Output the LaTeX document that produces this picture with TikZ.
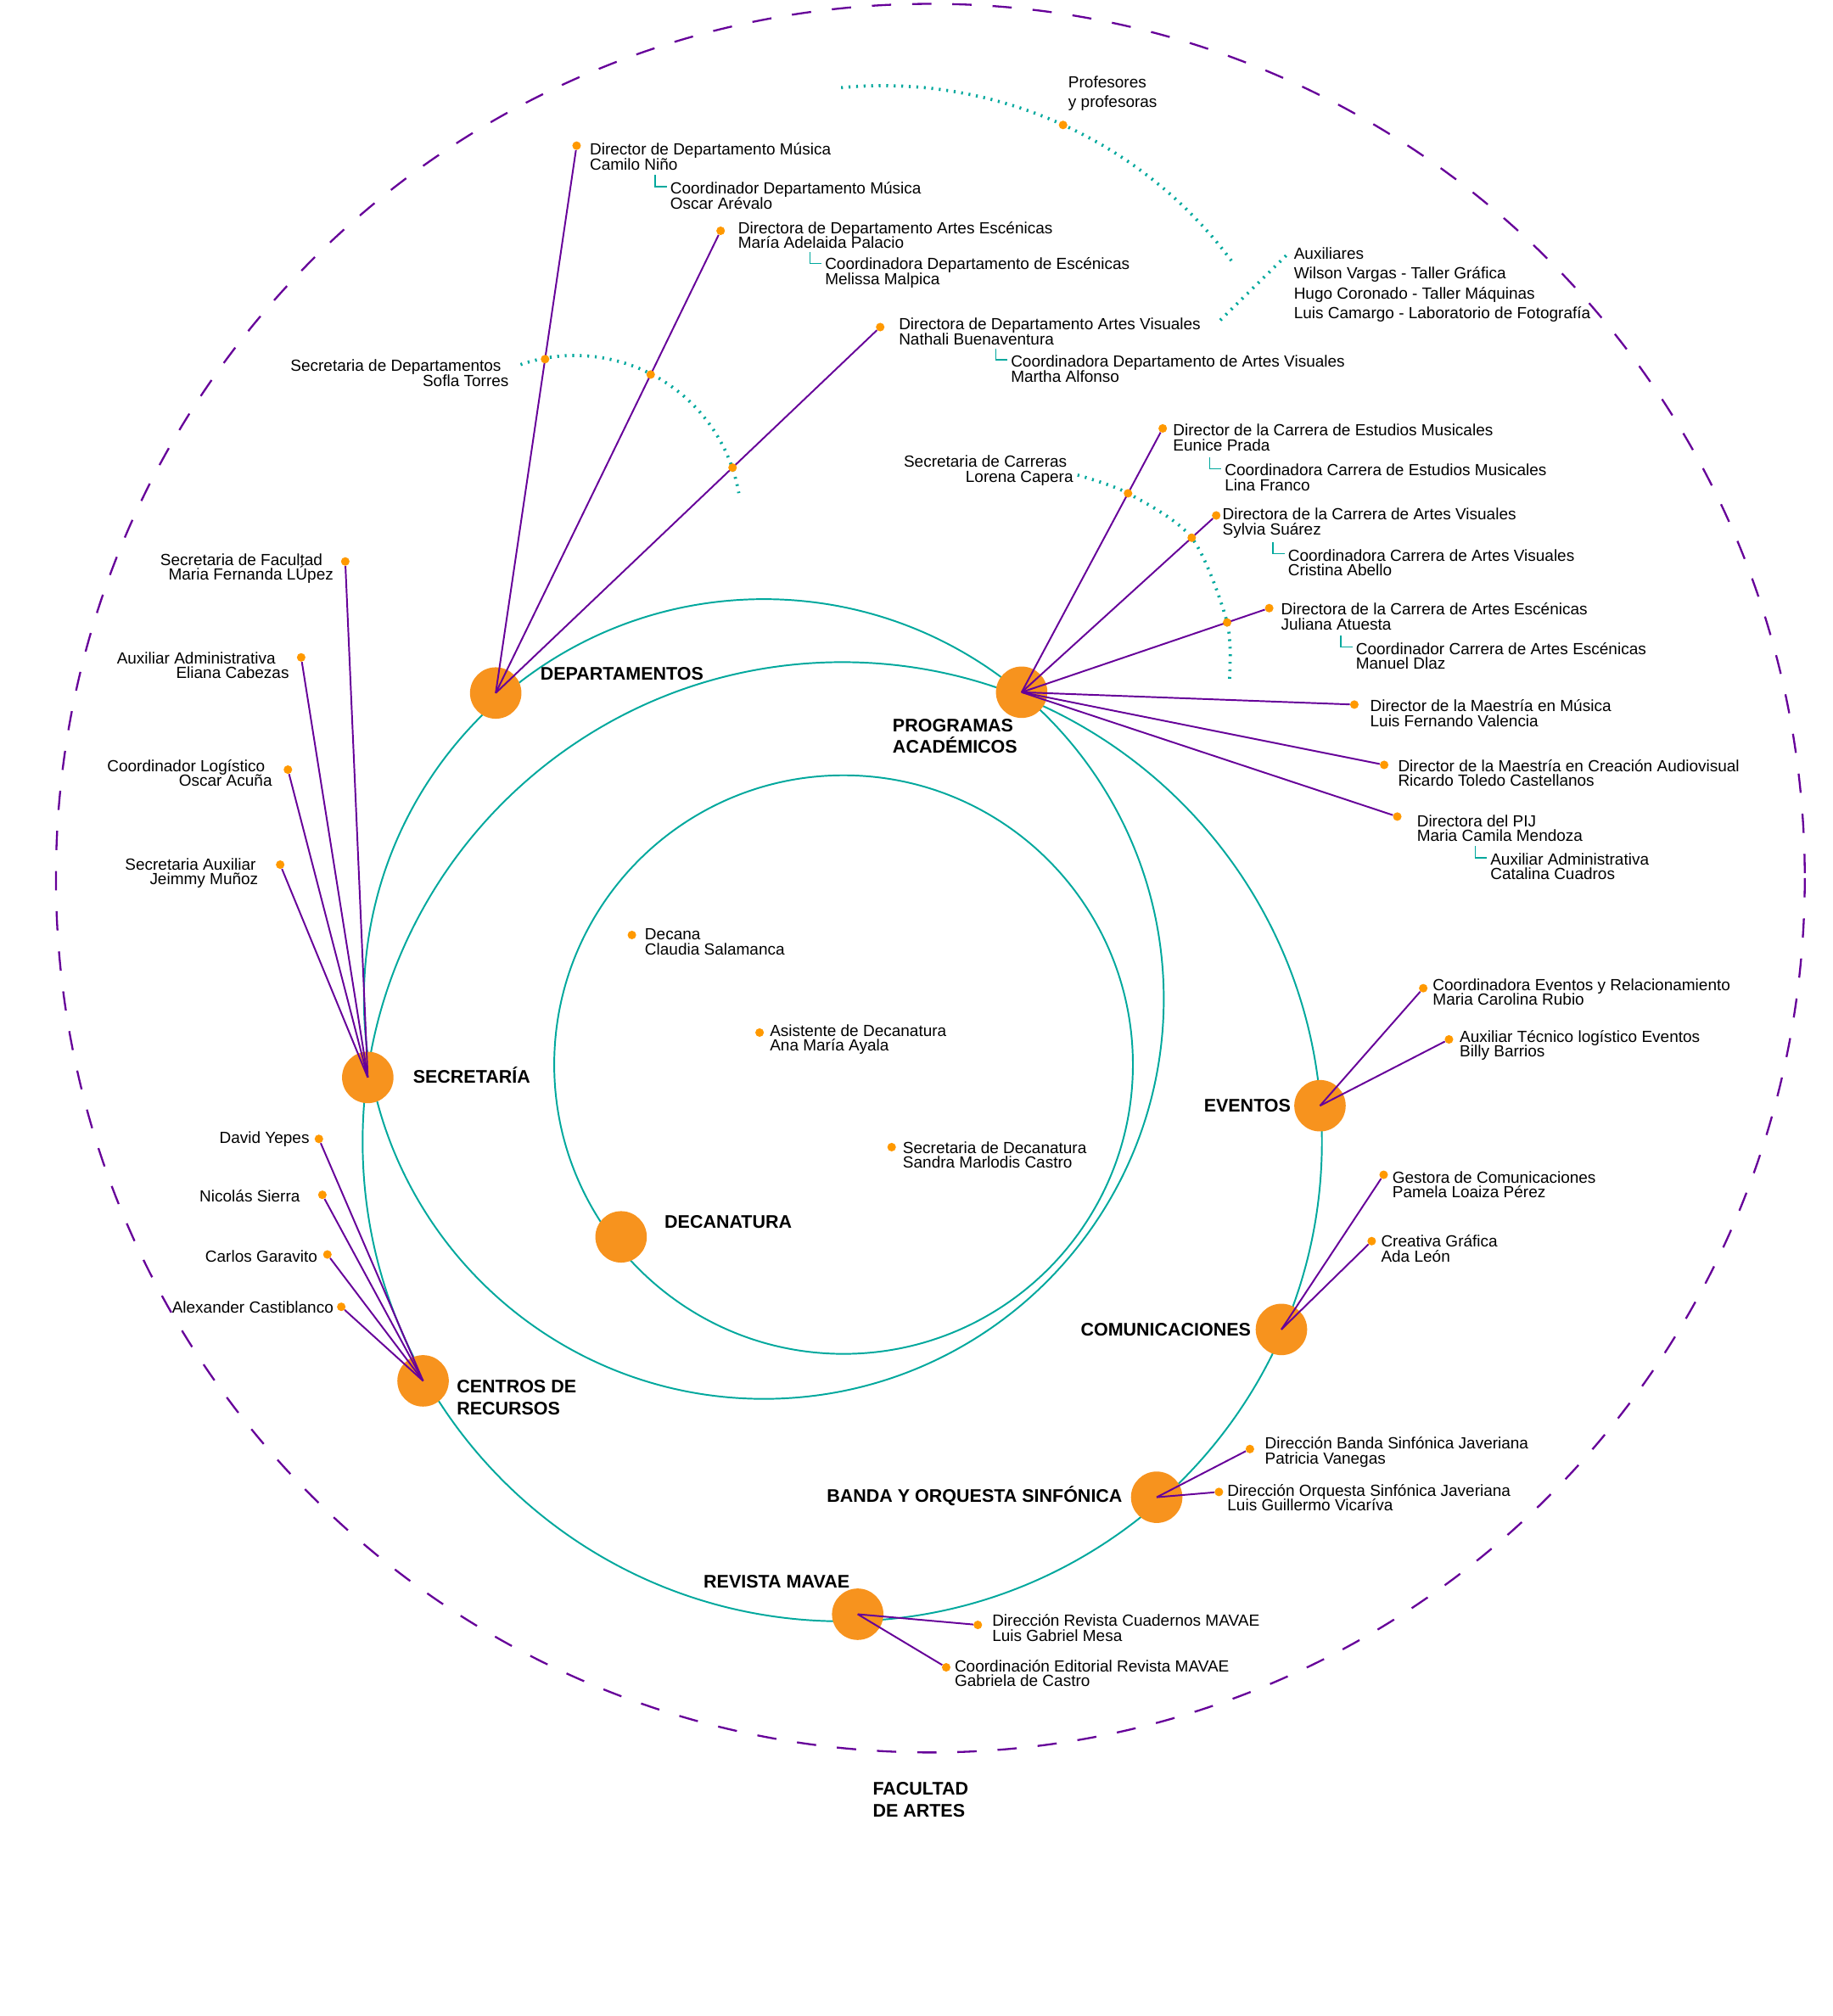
\documentclass[tikz,border=0pt]{standalone}
\usepackage{fontspec}
\setmainfont{Liberation Sans}
\usepackage{xcolor}
\usepackage{tikz}

\definecolor{morado}{RGB}{102,0,153}
\definecolor{verde}{RGB}{0,168,157}
\definecolor{naranja}{RGB}{247,147,30}
\definecolor{punto}{RGB}{255,153,0}

\begin{document}
\lineskiplimit=-20pt
\begin{tikzpicture}[
  x=0.03cm, y=-0.03cm,
  hub/.style={circle, fill=naranja, minimum size=1.2cm, inner sep=0pt},
  dot/.style={circle, fill=punto, minimum size=0.2cm, inner sep=0pt},
  txt/.style={font=\fontsize{10.7}{9.9}\selectfont, align=left, inner sep=0pt, anchor=west},
  txtwide/.style={txt, font=\fontsize{10.7}{13.1}\selectfont},
  rtxt/.style={txt, align=right, anchor=east},
  lab/.style={font=\bfseries\fontsize{12.1}{14.5}\selectfont, align=left, inner sep=0pt, anchor=west},
  spoke/.style={morado, line width=1.1pt},
  ring/.style={verde, line width=1.1pt},
  dotln/.style={verde, line width=2.1pt, dash pattern=on 1.2pt off 3.8pt},
  brk/.style={verde, line width=0.9pt},
  outer/.style={morado, line width=1.3pt, dash pattern=on 12.8pt off 13.9pt}
]
\useasboundingbox (0,0) rectangle (1425,1568);

% rings
\draw[outer] (723.5,683) circle[radius=680];
\draw[ring] (656,828) circle[radius=225];
\draw[ring] (594,777) circle[radius=311];
\draw[ring] (655,888) circle[radius=373];

% areas
\node[hub] (dep) at (385.5,539) {};
\node[hub] (prog) at (794.5,538.4) {};
\node[hub] (sec) at (286,838) {};
\node[hub] (dec) at (483,962) {};
\node[hub] (cen) at (329,1074) {};
\node[hub] (eve) at (1026.5,860) {};
\node[hub] (com) at (996.5,1034) {};
\node[hub] (ban) at (899.5,1164.5) {};
\node[hub] (rev) at (667,1255.5) {};

\node[lab] (depl) at (420,524) {DEPARTAMENTOS};
\node[lab] (progl) at (694,572.5) {PROGRAMAS\\ACADÉMICOS};
\node[lab] (secl) at (321,836) {SECRETARÍA};
\node[lab] (decl) at (516.6,950.6) {DECANATURA};
\node[lab] (cenl) at (355,1087) {CENTROS DE\\RECURSOS};
\node[lab, anchor=east] (evel) at (1004,860) {EVENTOS};
\node[lab, anchor=east] (coml) at (973,1034) {COMUNICACIONES};
\node[lab, anchor=east] (banl) at (873,1163.5) {BANDA Y ORQUESTA SINFÓNICA};
\node[lab] (revl) at (547,1230) {REVISTA MAVAE};
\node[lab] (facl) at (678.5,1400) {FACULTAD\\DE ARTES};

% people, text on the right
\foreach \hb/\nd/\px/\py/\lx/\ly/\lbl in {
  dep/dep1/448.4/113.3/458.5/122/{Director de Departamento Música\\Camilo Niño},
  dep/dep2/560.4/179.5/573.8/183/{Directora de Departamento Artes Escénicas\\María Adelaida Palacio},
  dep/dep3/684.5/254.4/698.8/258/{Directora de Departamento Artes Visuales\\Nathali Buenaventura},
  prog/prog1/904.2/333.2/912.1/340.3/{Director de la Carrera de Estudios Musicales\\Eunice Prada},
  prog/prog2/945.8/400.9/950.5/407/{Directora de la Carrera de Artes Visuales\\Sylvia Suárez},
  prog/prog3/987/473/996/479.5/{Directora de la Carrera de Artes Escénicas\\Juliana Atuesta},
  prog/prog4/1053.2/548/1065.3/554.8/{Director de la Maestría en Música\\Luis Fernando Valencia},
  prog/prog5/1076.4/594.9/1087/601.3/{Director de la Maestría en Creación Audiovisual\\Ricardo Toledo Castellanos},
  prog/prog6/1086.6/635.1/1101.7/644.2/{Directora del PIJ\\Maria Camila Mendoza},
  eve/eve1/1106.8/768.6/1114/771.5/{Coordinadora Eventos y Relacionamiento\\Maria Carolina Rubio},
  eve/eve2/1126.8/808.4/1135/813.1/{Auxiliar Técnico logístico Eventos\\Billy Barrios},
  com/com1/1076/913.7/1082.6/921.3/{Gestora de Comunicaciones\\Pamela Loaiza Pérez},
  com/com2/1066.7/965.3/1073.8/971.1/{Creativa Gráfica\\Ada León},
  ban/ban1/972/1127/983.5/1129.5/{Dirección Banda Sinfónica Javeriana\\Patricia Vanegas},
  ban/ban2/947.9/1160.4/954.3/1164.8/{Dirección Orquesta Sinfónica Javeriana\\Luis Guillermo Vicaríva},
  rev/rev1/760.4/1263.8/771.4/1266/{Dirección Revista Cuadernos MAVAE\\Luis Gabriel Mesa},
  rev/rev2/735.8/1296.8/742.2/1301.5/{Coordinación Editorial Revista MAVAE\\Gabriela de Castro}} {
  \node[dot] (\nd) at (\px,\py) {};
  \draw[spoke] (\hb.center) -- (\nd);
  \node[txt] (t\nd) at (\lx,\ly) {\lbl};
}

% people, text on the left
\foreach \hb/\nd/\px/\py/\lx/\ly/\lbl in {
  sec/sec1/268.5/436.7/259.5/442.3/{Secretaria de Facultad\hspace*{7.2pt}\\Maria Fernanda LÚpez},
  sec/sec2/234.2/511.3/225/517.5/{Auxiliar Administrativa\hspace*{9pt}\\Eliana Cabezas},
  sec/sec3/223.9/598.6/211.8/601.3/{Coordinador Logístico\hspace*{4.7pt}\\Oscar Acuña},
  sec/sec4/217.9/672.5/201/679/{Secretaria Auxiliar\hspace*{1.5pt}\\Jeimmy Muñoz},
  cen/cen1/248/885.8/240.8/886/{David Yepes},
  cen/cen2/250.7/929.3/233.5/930/{Nicolás Sierra},
  cen/cen3/254.6/975.7/247/977/{Carlos Garavito},
  cen/cen4/265.4/1016.4/259.5/1016.5/{Alexander Castiblanco}} {
  \node[dot] (\nd) at (\px,\py) {};
  \draw[spoke] (\hb.center) -- (\nd);
  \node[rtxt] (t\nd) at (\lx,\ly) {\lbl};
}

% decanatura
\foreach \nd/\px/\py/\lx/\ly/\lbl in {
  dec1/491.4/727.2/501.3/732.7/{Decana\\Claudia Salamanca},
  dec2/590.7/803.1/598.5/808.6/{Asistente de Decanatura\\Ana María Ayala},
  dec3/693.4/892.2/701.9/898.4/{Secretaria de Decanatura\\Sandra Marlodis Castro}} {
  \node[dot] (\nd) at (\px,\py) {};
  \node[txt] (t\nd) at (\lx,\ly) {\lbl};
}

% coordinators
\foreach \nd/\lx/\ly/\lbl in {
  depc1/521/152/{Coordinador Departamento Música\\Oscar Arévalo},
  depc2/641.4/212/{Coordinadora Departamento de Escénicas\\Melissa Malpica},
  depc3/785.9/287/{Coordinadora Departamento de Artes Visuales\\Martha Alfonso},
  progc1/952.3/371.5/{Coordinadora Carrera de Estudios Musicales\\Lina Franco},
  progc2/1001.4/437.7/{Coordinadora Carrera de Artes Visuales\\Cristina Abello},
  progc3/1054.2/510.3/{Coordinador Carrera de Artes Escénicas\\Manuel Dlaz},
  pijc/1158.8/674/{Auxiliar Administrativa\\Catalina Cuadros}} {
  \node[txt] (\nd) at (\lx,\ly) {\lbl};
  \draw[brk] ([shift={(-11.5,-16)}]\nd.west) |- ([shift={(-2.5,-7)}]\nd.west);
}

% secretarias on the spokes
\path (dep.center) -- coordinate[pos=0.610] (sd1) (dep1.center);
\path (dep.center) -- coordinate[pos=0.689] (sd2) (dep2.center);
\path (dep.center) -- coordinate[pos=0.616] (sd3) (dep3.center);
\path (prog.center) -- coordinate[pos=0.754] (sc1) (prog1.center);
\path (prog.center) -- coordinate[pos=0.874] (sc2) (prog2.center);
\path (prog.center) -- coordinate[pos=0.830] (sc3) (prog3.center);

\draw[dotln] (447,406) ++(-109:129.5) arc[start angle=-109, end angle=-10, radius=129.5];
\draw[dotln] plot[smooth] coordinates {(838,369.5) (sc1) (sc2) (sc3) (956,530.4)};
\draw[dotln] (686.5,404.6) ++(-95.5:338) arc[start angle=-95.5, end angle=-36.6, radius=338];
\coordinate (aux0) at (949,249);
\coordinate (aux1) at (1001,198);
\draw[dotln] (aux0) -- (aux1);

\foreach \nd in {sd1,sd2,sd3,sc1,sc2,sc3}
  \node[dot] (d\nd) at (\nd) {};
\node[dot] (prof) at (826.7,97.2) {};

\node[rtxt] (tsd) at (395.8,290) {Secretaria de Departamentos\hspace*{5pt}\\Sofla Torres};
\node[rtxt] (tsc) at (834.8,366) {Secretaria de Carreras\hspace*{4.2pt}\\Lorena Capera};
\node[txtwide] (tprof) at (830.6,72.5) {Profesores\\y profesoras};
\node[txtwide] (taux) at (1006,221.5) {Auxiliares\\Wilson Vargas - Taller Gráfica\\Hugo Coronado - Taller Máquinas\\Luis Camargo - Laboratorio de Fotografía};
\end{tikzpicture}
\end{document}
